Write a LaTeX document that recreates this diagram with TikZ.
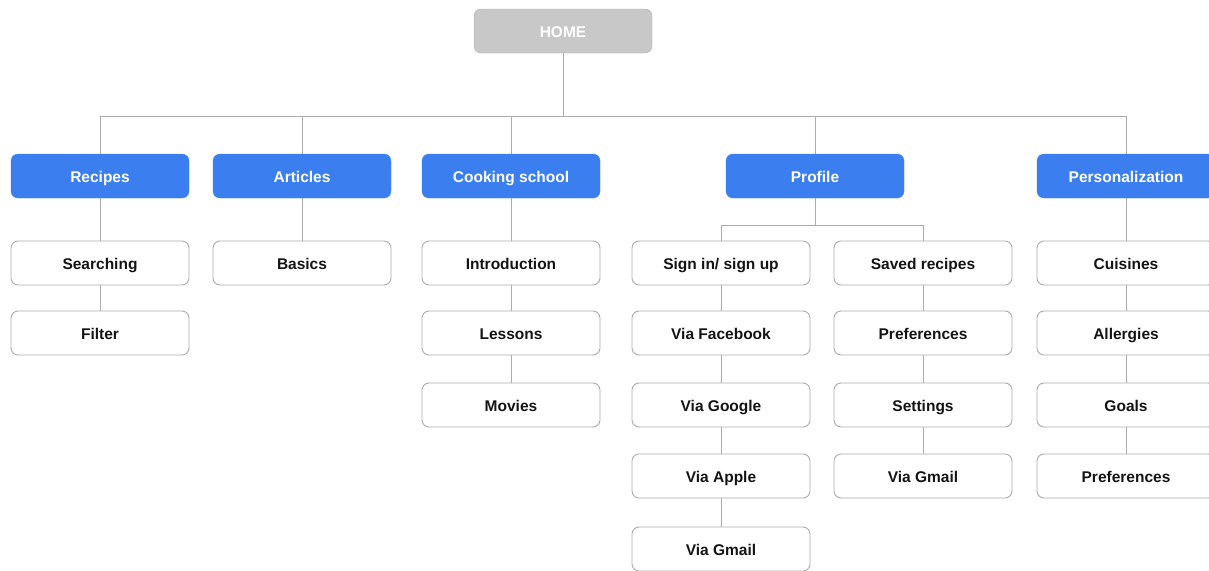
\documentclass[tikz,border=0pt]{standalone}
\usepackage{fontspec}
\setmainfont{Liberation Sans}
\usepackage{tikz}
\usetikzlibrary{positioning, calc}
\usepackage{xcolor}
\definecolor{homegray}{RGB}{200, 200, 200}
\definecolor{edgegray}{RGB}{172, 172, 172}
\definecolor{catblue}{RGB}{58, 126, 240}
\definecolor{itemtext}{RGB}{20, 20, 20}

\begin{document}
\begin{tikzpicture}[x=1pt, y=-1pt,
  box/.style={rectangle, rounded corners=7pt, minimum width=178pt, minimum height=44pt, inner sep=0pt, text height=13pt, text depth=1pt, font=\fontsize{15.5}{18}\selectfont\bfseries},
  homebox/.style={box, fill=homegray, draw=edgegray, text=white},
  catbox/.style={box, fill=catblue, draw=catblue, text=white},
  itembox/.style={box, fill=white, draw=edgegray, line width=0.9pt, text=itemtext},
  link/.style={draw=edgegray, line width=1pt},
]
  \useasboundingbox (0,0) rectangle (1209,570);
  \clip (0,0) rectangle (1209,570);

  % buses
  \coordinate (bus) at (0,116);
  \coordinate (pbus) at (0,225);

  % top level
  \node[homebox] (home) at (563,31) {HOME};

  % sections
  \node[catbox] (recipes) at (100,176) {Recipes};
  \node[catbox] (articles) at (302,176) {Articles};
  \node[catbox] (school) at (511,176) {Cooking school};
  \node[catbox] (profile) at (815,176) {Profile};
  \node[catbox] (personal) at (1126,176) {Personalization};

  % recipes
  \node[itembox] (search) at (100,263) {Searching};
  \node[itembox] (filter) at (100,333) {Filter};

  % articles
  \node[itembox] (basics) at (302,263) {Basics};

  % cooking school
  \node[itembox] (intro) at (511,263) {Introduction};
  \node[itembox] (lessons) at (511,333) {Lessons};
  \node[itembox] (movies) at (511,405) {Movies};

  % profile
  \node[itembox] (signin) at (721,263) {Sign in/ sign up};
  \node[itembox] (facebook) at (721,333) {Via Facebook};
  \node[itembox] (google) at (721,405) {Via Google};
  \node[itembox] (apple) at (721,476) {Via Apple};
  \node[itembox] (gmailA) at (721,549) {Via Gmail};
  \node[itembox] (saved) at (923,263) {Saved recipes};
  \node[itembox] (prefsA) at (923,333) {Preferences};
  \node[itembox] (settings) at (923,405) {Settings};
  \node[itembox] (gmailB) at (923,476) {Via Gmail};

  % personalization
  \node[itembox] (cuisines) at (1126,263) {Cuisines};
  \node[itembox] (allergies) at (1126,333) {Allergies};
  \node[itembox] (goals) at (1126,405) {Goals};
  \node[itembox] (prefsB) at (1126,476) {Preferences};

  % home to sections
  \foreach \n in {recipes, articles, school, profile, personal}
    \draw[link] (home.south) -- (home.south |- bus) -| (\n.north);

  % profile split
  \foreach \n in {signin, saved}
    \draw[link] (profile.south) -- (profile.south |- pbus) -| (\n.north);

  % vertical chains
  \foreach \a/\b in {recipes/search, search/filter, articles/basics,
                     school/intro, intro/lessons, lessons/movies,
                     signin/facebook, facebook/google, google/apple, apple/gmailA,
                     saved/prefsA, prefsA/settings, settings/gmailB,
                     personal/cuisines, cuisines/allergies, allergies/goals, goals/prefsB}
    \draw[link] (\a.south) -- (\b.north);
\end{tikzpicture}
\end{document}
